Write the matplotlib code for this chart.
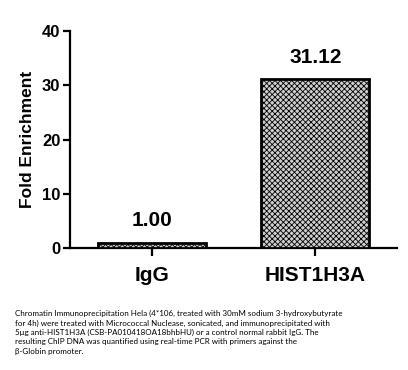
import matplotlib
matplotlib.use("Agg")
import matplotlib.pyplot as plt

categories = ["IgG", "HIST1H3A"]
values = [1.00, 31.12]
value_labels = ["1.00", "31.12"]
yticks = [0, 10, 20, 30, 40]
caption = ("Chromatin Immunoprecipitation Hela (4*106, treated with 30mM sodium 3-hydroxybutyrate\n"
           "for 4h) were treated with Micrococcal Nuclease, sonicated, and immunoprecipitated with\n"
           "5\u03bcg anti-HIST1H3A (CSB-PA010418OA18bhbHU) or a control normal rabbit IgG. The\n"
           "resulting ChIP DNA was quantified using real-time PCR with primers against the\n"
           "\u03b2-Globin promoter.")

plt.rcParams['font.family'] = ['Liberation Sans', 'DejaVu Sans']
plt.rcParams['hatch.linewidth'] = 0.6
plt.rcParams['hatch.color'] = '#2a2a2a'

fig = plt.figure(figsize=(4.08, 3.70), dpi=100)
ax = fig.add_axes([70/408, 1-248/370, 327/408, 217/370])

x = list(range(len(categories)))
bars = ax.bar(x, values, width=0.66, facecolor='#cfcfcf', edgecolor='black',
              linewidth=2.0, hatch='xxxxxx', zorder=3)
for xi, v, lab in zip(x, values, value_labels):
    ax.annotate(lab, (xi, v), xytext=(0, 9), textcoords='offset points',
                ha='center', va='bottom', fontsize=15, fontweight='bold')

ax.set_xlim(-0.5, 1.5)
ax.set_ylim(0, 40)
ax.set_yticks(yticks)
ax.set_yticklabels([str(t) for t in yticks], fontsize=12, fontweight='bold')
ax.set_xticks(x)
ax.set_xticklabels(categories, fontsize=15, fontweight='bold')
ax.set_ylabel("Fold Enrichment", fontsize=12.5, fontweight='bold', labelpad=5)

for s in ['top', 'right']:
    ax.spines[s].set_visible(False)
for s in ['left', 'bottom']:
    ax.spines[s].set_linewidth(1.6)
ax.tick_params(axis='y', width=1.6, length=5, pad=2)
ax.tick_params(axis='x', width=1.6, length=6, pad=7)

fig.text(15/408, 1-310/370, caption, ha='left', va='top', fontsize=5.8,
         family=['Lato', 'DejaVu Sans'], linespacing=1.38)

fig.savefig("out.png", dpi=100)
